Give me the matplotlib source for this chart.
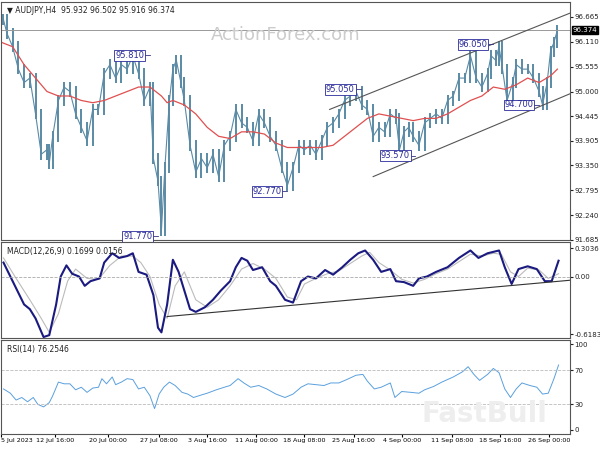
import matplotlib
matplotlib.use("Agg")
import matplotlib.pyplot as plt
import numpy as np

px = [2,5,10,15,20,25,30,35,40,42,45,50,55,60,65,70,75,80,85,90,95,100,105,110,115,120,125,130,133,137,140,143,147,150,153,157,160,165,170,175,180,185,190,195,200,205,210,215,220,225,230,235,240,245,250,255,260,265,270,275,280,285,290,295,300,305,310,315,320,325,330,335,340,345,348,352,356,360,365,370,375,380,385,390,395,400,405,410,415,420,425,428,432,435,438,442,447,450,455,460,465,470,473,477,480,483,486]
close = [96.6,96.3,96.0,95.5,95.2,95.3,94.5,93.6,93.7,93.4,94.0,94.8,95.1,95.0,94.5,94.2,93.9,94.6,94.6,95.4,95.6,95.3,95.6,95.5,95.8,95.4,94.8,95.1,93.5,93.0,91.9,93.3,94.8,95.5,95.7,95.2,94.8,93.8,93.2,93.5,93.3,93.6,93.1,93.8,94.0,94.6,94.3,94.2,93.9,94.5,94.3,94.0,93.8,93.3,92.9,93.3,93.8,93.7,93.8,93.6,93.9,94.2,94.3,94.5,94.8,94.9,95.0,94.7,94.6,94.0,94.2,94.1,94.5,94.4,93.7,94.1,94.2,94.0,93.8,94.3,94.4,94.5,94.4,94.8,94.9,95.3,95.3,95.8,95.3,95.1,95.4,95.8,95.7,96.0,95.5,94.8,95.2,95.6,95.5,95.5,95.3,95.0,94.7,95.2,95.9,96.1,96.374]

ma_x = [0,10,20,30,40,50,60,70,80,90,100,110,120,130,140,145,150,160,170,180,190,200,210,220,230,240,250,260,270,280,290,300,310,320,330,340,350,360,370,380,390,400,410,420,430,440,450,460,470,480,486]
ma = [96.1,96.0,95.6,95.3,95.0,94.9,94.9,94.8,94.75,94.8,94.9,95.0,95.1,95.1,94.9,94.75,94.8,94.7,94.5,94.2,94.0,93.95,94.1,94.1,94.05,93.85,93.75,93.75,93.75,93.75,93.8,94.0,94.2,94.4,94.5,94.45,94.4,94.35,94.4,94.4,94.5,94.65,94.8,94.9,95.1,95.05,95.15,95.3,95.2,95.35,95.5]

macd_x = [2,10,20,25,30,37,42,48,52,57,62,68,73,78,86,90,97,103,110,115,120,127,133,137,140,145,150,155,160,165,170,178,185,192,200,205,210,215,220,228,235,240,248,255,262,268,275,283,290,298,305,312,318,325,332,340,345,352,360,365,372,380,390,400,410,417,425,435,440,446,452,460,468,475,481,487]
macd = [0.15,-0.05,-0.3,-0.35,-0.45,-0.65,-0.63,-0.3,0.0,0.12,0.03,0.0,-0.1,-0.05,-0.02,0.15,0.25,0.2,0.22,0.25,0.05,0.02,-0.2,-0.55,-0.6,-0.3,0.18,0.05,-0.15,-0.35,-0.38,-0.33,-0.25,-0.15,-0.05,0.1,0.2,0.17,0.07,0.1,-0.05,-0.1,-0.25,-0.28,-0.05,0.0,-0.02,0.07,0.02,0.1,0.18,0.25,0.28,0.18,0.05,0.08,-0.05,-0.06,-0.1,-0.02,0.0,0.05,0.1,0.2,0.28,0.2,0.25,0.28,0.1,-0.08,0.08,0.11,0.08,-0.05,-0.05,0.17]
sig_x = [2,12,25,35,42,50,58,65,75,85,95,105,115,122,130,138,145,152,160,170,180,190,200,210,220,230,240,250,258,265,275,285,295,305,315,322,330,340,350,360,370,380,390,400,410,420,430,437,445,452,460,470,478,487]
sig = [0.2,0.0,-0.25,-0.45,-0.6,-0.4,-0.05,0.08,-0.02,-0.03,0.12,0.22,0.22,0.15,0.0,-0.3,-0.45,-0.1,0.05,-0.25,-0.33,-0.25,-0.1,0.08,0.14,0.08,-0.02,-0.22,-0.25,-0.08,-0.02,0.03,0.06,0.14,0.22,0.26,0.15,0.07,-0.03,-0.07,-0.03,0.03,0.08,0.16,0.24,0.22,0.25,0.24,0.05,0.0,0.09,0.07,-0.02,0.03]

rsi_x = [2,8,13,18,23,28,32,37,42,45,50,55,60,65,70,75,80,85,88,92,97,100,105,110,115,120,125,130,134,138,142,147,152,158,163,168,175,180,188,195,200,207,212,218,225,232,240,248,255,262,268,275,282,288,295,302,310,316,320,326,332,340,344,350,358,365,370,378,385,395,403,408,413,418,425,430,435,440,445,450,455,462,468,473,478,483,487]
rsi = [48,43,35,38,33,38,30,27,32,40,56,54,54,47,50,44,49,50,60,54,62,53,56,60,59,48,50,40,25,42,50,56,52,44,42,38,41,43,47,50,52,60,55,50,52,48,42,38,42,50,54,53,52,55,55,59,64,65,57,48,50,55,38,45,44,43,47,51,56,62,68,74,65,58,65,72,67,48,38,48,55,52,50,42,43,60,76]

price_ticks = [96.665,96.110,95.555,95.000,94.445,93.905,93.350,92.795,92.240,91.685]
date_pos = [0,47,93,138,180,223,265,308,350,394,436,479]
date_labels = ["5 Jul 2023","12 Jul 16:00","20 Jul 00:00","27 Jul 08:00","3 Aug 16:00","11 Aug 00:00","18 Aug 08:00","25 Aug 16:00","4 Sep 00:00","11 Sep 08:00","18 Sep 16:00","26 Sep 00:00"]
lab_x = [130,137,250,314,362,430,470]
lab_p = [95.81,91.77,92.77,95.05,93.57,96.05,94.70]
lab_t = ["95.810","91.770","92.770","95.050","93.570","96.050","94.700"]

fig = plt.figure(figsize=(6,4.5), dpi=100)
W = 0.948
XMAX = 497
ax1 = fig.add_axes([0.002, 0.4667, W, 0.529])
ax2 = fig.add_axes([0.002, 0.249, W, 0.213])
ax3 = fig.add_axes([0.002, 0.035, W, 0.209])
for a in (ax1, ax2, ax3):
    a.set_xlim(0, XMAX)
    a.yaxis.tick_right()
    a.tick_params(axis='y', labelsize=5, length=2, pad=1, colors='#222')
    a.tick_params(axis='x', length=0)
    a.set_xticks([])
    for s in a.spines.values():
        s.set_color('#555'); s.set_linewidth(0.8)

bar_c = '#5a8aa5'
prev = close[0]
for x, c in zip(px, close):
    ax1.vlines(x, min(prev, c) - 0.12, max(prev, c) + 0.12, color=bar_c, lw=1.4)
    prev = c
ax1.plot(px, close, color=bar_c, lw=0.8)
ax1.plot(ma_x, ma, color='#e05050', lw=0.9)
ax1.axhline(96.374, color='#999', lw=0.7)
ax1.plot([287, XMAX], [94.6, 96.75], color='#555', lw=0.8)
ax1.plot([325, XMAX], [93.1, 94.95], color='#555', lw=0.8)
ax1.set_ylim(91.685, 97.0)
ax1.set_yticks(price_ticks)
ax1.set_yticklabels([f"{v:.3f}" for v in price_ticks])
ax1.text(0.01, 0.985, "\u25BC AUDJPY,H4  95.932 96.502 95.916 96.374", transform=ax1.transAxes,
         fontsize=5.5, va='top', color='#222')
ax1.text(0.5, 0.86, "ActionForex.com", transform=ax1.transAxes, fontsize=13, color='#ccc',
         ha='center', va='center')
for x, p, t in zip(lab_x, lab_p, lab_t):
    ax1.plot([x - 5, x], [p, p], color='#333380', lw=0.6)
    ax1.text(x - 5, p, t, fontsize=6, color='#2a2a9a', ha='right', va='center',
             bbox=dict(boxstyle='square,pad=0.1', fc='white', ec='#2a2a9a', lw=0.6))
ax1.text(1.004, 96.374, "96.374", transform=ax1.get_yaxis_transform(), fontsize=5,
         color='white', va='center', ha='left',
         bbox=dict(boxstyle='square,pad=0.1', fc='black', ec='black'))

ax2.plot(sig_x, sig, color='#bbb', lw=0.8)
ax2.plot(macd_x, macd, color='#1a1a80', lw=1.5)
ax2.axhline(0, color='#aaa', lw=0.6, ls='--')
ax2.plot([145, XMAX], [-0.43, -0.04], color='#333', lw=0.8)
ax2.set_ylim(-0.66, 0.37)
ax2.set_yticks([0.3036, 0.0, -0.6183])
ax2.set_yticklabels(["0.3036", "0.00", "-0.6183"])
ax2.text(0.01, 0.95, "MACD(12,26,9) 0.1699 0.0156", transform=ax2.transAxes, fontsize=5.5, va='top', color='#222')

ax3.plot(rsi_x, rsi, color='#5aa0dd', lw=0.7)
for lv in (70, 30):
    ax3.axhline(lv, color='#bbb', lw=0.6, ls='--')
ax3.set_ylim(-5, 105)
ax3.set_yticks([100, 70, 30, 0])
ax3.text(0.01, 0.95, "RSI(14) 76.2546", transform=ax3.transAxes, fontsize=5.5, va='top', color='#222')
ax3.text(0.85, 0.22, "FastBull", transform=ax3.transAxes, fontsize=20, color='#eee',
         ha='center', va='center', fontweight='bold')
ax3.set_xticks(date_pos)
ax3.set_xticklabels(date_labels, fontsize=4.6)
ax3.get_xticklabels()[0].set_ha('left')
ax3.tick_params(axis='x', length=2, pad=1)

fig.savefig("out.png", dpi=100, facecolor='white')
